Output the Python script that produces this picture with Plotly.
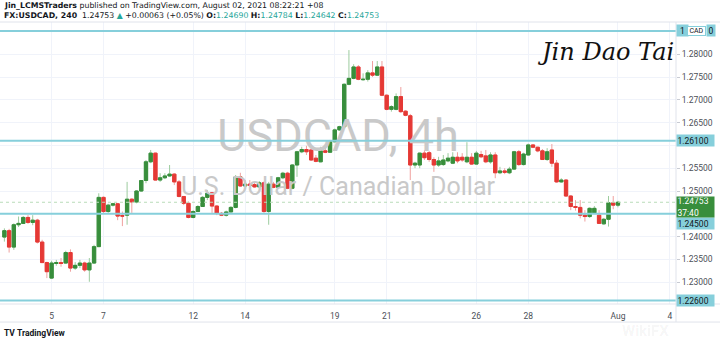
import plotly.graph_objects as go

# ---- data: USDCAD 4h candles (Jul 1 13:00 -> Aug 2 05:00, UTC+8) ----
opens = [1.2399, 1.2413, 1.2377, 1.2426, 1.2429, 1.2442, 1.2431, 1.2436, 1.2388, 1.2343,
         1.2309, 1.2341, 1.2343, 1.2342, 1.2365, 1.2331, 1.2337, 1.2342, 1.2327, 1.2342,
         1.2378, 1.2486, 1.2455, 1.2469, 1.2472, 1.2446, 1.2447, 1.2482, 1.2476, 1.2500,
         1.2523, 1.2564, 1.2583, 1.2524, 1.2529, 1.2533, 1.2537, 1.2520, 1.2488, 1.2473,
         1.2442, 1.2455, 1.2466, 1.2486, 1.2496, 1.2467, 1.2451, 1.2447, 1.2454, 1.2464,
         1.2531, 1.2511, 1.2515, 1.2514, 1.2509, 1.2518, 1.2455, 1.2515, 1.2508, 1.2529,
         1.2539, 1.2506, 1.2557, 1.2586, 1.2591, 1.2590, 1.2572, 1.2564, 1.2588, 1.2585,
         1.2608, 1.2634, 1.2641, 1.2734, 1.2747, 1.2772, 1.2744, 1.2745, 1.2759, 1.2754,
         1.2772, 1.2710, 1.2679, 1.2679, 1.2707, 1.2675, 1.2665, 1.2557, 1.2557, 1.2583,
         1.2584, 1.2569, 1.2557, 1.2558, 1.2566, 1.2561, 1.2574, 1.2574, 1.2564, 1.2574,
         1.2559, 1.2580, 1.2577, 1.2564, 1.2579, 1.2540, 1.2544, 1.2540, 1.2548, 1.2586,
         1.2558, 1.2579, 1.2601, 1.2596, 1.2588, 1.2569, 1.2590, 1.2561, 1.2520, 1.2524,
         1.2489, 1.2466, 1.2464, 1.2447, 1.2444, 1.2452, 1.2447, 1.2428, 1.2438, 1.2474,
         1.24690]
highs = [1.2418, 1.2417, 1.2429, 1.2444, 1.2445, 1.2447, 1.2447, 1.2439, 1.2393, 1.2345,
         1.2347, 1.2349, 1.2353, 1.2369, 1.2372, 1.2344, 1.2349, 1.2345, 1.2353, 1.2382,
         1.2495, 1.2488, 1.2472, 1.2474, 1.2474, 1.2455, 1.2520, 1.2484, 1.2502, 1.2524,
         1.2568, 1.2590, 1.2584, 1.2539, 1.2539, 1.2557, 1.2539, 1.2524, 1.2489, 1.2477,
         1.2458, 1.2469, 1.2489, 1.2502, 1.2498, 1.2469, 1.2454, 1.2457, 1.2467, 1.2535,
         1.2540, 1.2524, 1.2524, 1.2518, 1.2522, 1.2521, 1.2520, 1.2520, 1.2531, 1.2542,
         1.2542, 1.2559, 1.2588, 1.2597, 1.2599, 1.2594, 1.2579, 1.2597, 1.2601, 1.2612,
         1.2637, 1.2643, 1.2736, 1.2809, 1.2778, 1.2776, 1.2758, 1.2765, 1.2785, 1.2785,
         1.2785, 1.2712, 1.2688, 1.2714, 1.2728, 1.2677, 1.2669, 1.2564, 1.2584, 1.2590,
         1.2588, 1.2574, 1.2575, 1.2579, 1.2583, 1.2585, 1.2585, 1.2583, 1.2607, 1.2583,
         1.2588, 1.2588, 1.2590, 1.2585, 1.2585, 1.2553, 1.2550, 1.2553, 1.2588, 1.2590,
         1.2584, 1.2604, 1.2603, 1.2597, 1.2592, 1.2594, 1.2603, 1.2568, 1.2528, 1.2526,
         1.2491, 1.2480, 1.2480, 1.2458, 1.2464, 1.2467, 1.2458, 1.2441, 1.2489, 1.2489,
         1.24784]
lows = [1.2389, 1.2365, 1.2371, 1.2421, 1.2428, 1.2428, 1.2425, 1.2385, 1.2342, 1.2309,
        1.2307, 1.2336, 1.2334, 1.2340, 1.2323, 1.2327, 1.2331, 1.2323, 1.2301, 1.2340,
        1.2377, 1.2451, 1.2452, 1.2466, 1.2436, 1.2423, 1.2426, 1.2452, 1.2473, 1.2498,
        1.2517, 1.2561, 1.2523, 1.2520, 1.2526, 1.2531, 1.2513, 1.2486, 1.2469, 1.2440,
        1.2440, 1.2454, 1.2465, 1.2480, 1.2452, 1.2447, 1.2445, 1.2444, 1.2454, 1.2462,
        1.2509, 1.2509, 1.2507, 1.2507, 1.2509, 1.2452, 1.2426, 1.2506, 1.2507, 1.2526,
        1.2504, 1.2504, 1.2531, 1.2583, 1.2579, 1.2566, 1.2563, 1.2563, 1.2583, 1.2584,
        1.2607, 1.2632, 1.2638, 1.2732, 1.2745, 1.2743, 1.2742, 1.2740, 1.2750, 1.2752,
        1.2708, 1.2677, 1.2674, 1.2677, 1.2671, 1.2664, 1.2524, 1.2550, 1.2550, 1.2568,
        1.2564, 1.2542, 1.2553, 1.2555, 1.2563, 1.2559, 1.2561, 1.2564, 1.2561, 1.2557,
        1.2558, 1.2572, 1.2561, 1.2560, 1.2528, 1.2537, 1.2537, 1.2537, 1.2546, 1.2555,
        1.2556, 1.2577, 1.2594, 1.2585, 1.2568, 1.2566, 1.2553, 1.2518, 1.2518, 1.2487,
        1.2458, 1.2457, 1.2440, 1.2433, 1.2441, 1.2450, 1.2428, 1.2426, 1.2422, 1.2460,
        1.24642]
closes = [1.2413, 1.2377, 1.2426, 1.2429, 1.2442, 1.2431, 1.2436, 1.2388, 1.2343, 1.2323,
          1.2342, 1.2343, 1.2341, 1.2365, 1.2331, 1.2337, 1.2342, 1.2327, 1.2342, 1.2378,
          1.2486, 1.2455, 1.2469, 1.2472, 1.2445, 1.2445, 1.2482, 1.2476, 1.2500, 1.2523,
          1.2564, 1.2583, 1.2524, 1.2529, 1.2533, 1.2537, 1.2520, 1.2488, 1.2473, 1.2442,
          1.2455, 1.2466, 1.2486, 1.2495, 1.2467, 1.2451, 1.2447, 1.2454, 1.2464, 1.2531,
          1.2511, 1.2515, 1.2512, 1.2509, 1.2518, 1.2455, 1.2515, 1.2508, 1.2529, 1.2539,
          1.2506, 1.2557, 1.2586, 1.2591, 1.2586, 1.2568, 1.2565, 1.2588, 1.2585, 1.2608,
          1.2634, 1.2641, 1.2734, 1.2747, 1.2772, 1.2745, 1.2745, 1.2759, 1.2754, 1.2772,
          1.2710, 1.2679, 1.2685, 1.2707, 1.2674, 1.2666, 1.2557, 1.2561, 1.2583, 1.2573,
          1.2569, 1.2557, 1.2566, 1.2568, 1.2572, 1.2574, 1.2566, 1.2568, 1.2574, 1.2559,
          1.2583, 1.2575, 1.2564, 1.2579, 1.2540, 1.2544, 1.2541, 1.2548, 1.2586, 1.2558,
          1.2581, 1.2601, 1.2596, 1.2588, 1.2569, 1.2586, 1.2561, 1.2520, 1.2524, 1.2489,
          1.2466, 1.2464, 1.2447, 1.2444, 1.2462, 1.2462, 1.2429, 1.2438, 1.2474, 1.2469,
          1.24753]

# date labels and the bar index where each day starts
tick_labels = ["5", "7", "12", "14", "19", "21", "26", "28", "Aug", "4"]
tick_bars = [10, 21, 40, 51, 70, 81, 100, 111, 130, 141]

price_ticks = [1.230, 1.235, 1.240, 1.245, 1.250, 1.255, 1.260, 1.265, 1.270, 1.275, 1.280]
hidden_ticks = [1.245, 1.260]   # covered by the line labels on the price scale

hline_levels = [1.2851, 1.2610, 1.2450, 1.2260]
hline_texts = ["1", "1.26100", "1.24500", "1.22600"]

symbol = "USDCAD, 4h"
description = "U.S. Dollar / Canadian Dollar"
countdown = "37:40"

# ---- styling ----
GREEN = "#388e3c"
RED = "#e53935"
GREEN_W = "#9ccc9e"
RED_W = "#f0a09e"
CYAN = "#86cfdb"
GRID = "#f0f3fa"
TXT = "#4c4f57"

x = list(range(len(opens)))
body_hi = [max(o, c) for o, c in zip(opens, closes)]
body_lo = [min(o, c) for o, c in zip(opens, closes)]

xr = [-0.93, 142.3]
yr = [1.22522, 1.28706]

fig = go.Figure()

# watermark (behind candles)
fig.add_trace(go.Scatter(x=[(xr[0] + xr[1]) / 2], y=[1.2612], mode="text", text=[symbol],
                         textfont=dict(family="Roboto", size=45, color="#c9c9c9"),
                         hoverinfo="skip"))
fig.add_trace(go.Scatter(x=[(xr[0] + xr[1]) / 2], y=[1.2505], mode="text", text=[description],
                         textfont=dict(family="Roboto", size=25, color="#c9c9c9"),
                         hoverinfo="skip"))

# wicks (light)
fig.add_trace(go.Candlestick(x=x, open=opens, high=highs, low=lows, close=closes,
                             increasing=dict(line=dict(color=GREEN_W, width=1), fillcolor=GREEN_W),
                             decreasing=dict(line=dict(color=RED_W, width=1), fillcolor=RED_W),
                             hoverinfo="skip"))
# bodies (solid)
fig.add_trace(go.Candlestick(x=x, open=opens, high=body_hi, low=body_lo, close=closes,
                             increasing=dict(line=dict(color=GREEN, width=1), fillcolor=GREEN),
                             decreasing=dict(line=dict(color=RED, width=1), fillcolor=RED),
                             hoverinfo="skip"))

shapes = []
# current price line
shapes.append(dict(type="line", xref="paper", x0=0, x1=1, yref="y", y0=closes[-1], y1=closes[-1],
                   line=dict(color="#b9dcb9", width=1, dash="dot")))
# horizontal drawn lines
for lv in hline_levels:
    shapes.append(dict(type="line", xref="paper", x0=0, x1=1, yref="y", y0=lv, y1=lv,
                       line=dict(color=CYAN, width=2)))
# frame lines
BORDER = "#e0e3eb"
shapes.append(dict(type="line", xref="paper", yref="paper", x0=0, x1=1.066, y0=1.0, y1=1.0,
                   line=dict(color=BORDER, width=1)))
shapes.append(dict(type="line", xref="paper", yref="paper", x0=0, x1=1.066, y0=0, y1=0,
                   line=dict(color=BORDER, width=1)))
shapes.append(dict(type="line", xref="paper", yref="paper", x0=0, x1=1.066, y0=-0.064, y1=-0.064,
                   line=dict(color=BORDER, width=1)))
shapes.append(dict(type="line", xref="paper", yref="paper", x0=1, x1=1, y0=-0.064, y1=1.0,
                   line=dict(color=BORDER, width=1)))

ann = []
# header
HDR = dict(family="DejaVu Sans", size=7.8, color="#131722")
ann.append(dict(xref="paper", yref="paper", x=0.003, y=1.059, xanchor="left", yanchor="middle",
                showarrow=False, font=HDR,
                text="<b>Jin_LCMSTraders</b> published on TradingView.com, August 02, 2021 08:22:21 +08"))
VC = "#26a69a"
ann.append(dict(xref="paper", yref="paper", x=0.003, y=1.024, xanchor="left", yanchor="middle",
                showarrow=False, font=HDR,
                text=("<b>FX:USDCAD, 240</b>  1.24753 <span style='color:%s'>▲</span> +0.00063 (+0.05%%) "
                      "<b>O:</b><span style='color:%s'>1.24690</span> <b>H:</b><span style='color:%s'>1.24784</span> "
                      "<b>L:</b><span style='color:%s'>1.24642</span> <b>C:</b><span style='color:%s'>1.24753</span>")
                % (VC, VC, VC, VC, VC)))

LBL = dict(family="Roboto", size=8.5, color="#131722")
# price scale labels for the drawn lines
shifts = [0, 0, -9.5, 0]
widths = [10, 36, 36, 36]
for lv, tx, sh, w in zip(hline_levels, hline_texts, shifts, widths):
    ann.append(dict(xref="paper", yref="y", x=1.0, y=lv, xanchor="left", yanchor="middle",
                    yshift=sh, showarrow=False, text=tx, bgcolor=CYAN, width=w, height=10,
                    borderpad=0.5, align="left" if w > 10 else "center", font=LBL))
# currency badge and the tail of the top label
ann.append(dict(xref="paper", yref="y", x=1.0, y=hline_levels[0], xanchor="left", yanchor="middle",
                xshift=11, showarrow=False, text="CAD", bgcolor="white", bordercolor=CYAN,
                borderwidth=1, borderpad=0, width=17, height=8,
                font=dict(family="Roboto", size=7, color="#131722")))
ann.append(dict(xref="paper", yref="y", x=1.0, y=hline_levels[0], xanchor="left", yanchor="middle",
                xshift=30, showarrow=False, text="0", bgcolor=CYAN, width=7, height=10,
                borderpad=0.5, font=LBL))
# last price label
ann.append(dict(xref="paper", yref="y", x=1.0, y=closes[-1], xanchor="left", yanchor="top",
                yshift=6.5, showarrow=False, text="%.5f<br>%s" % (closes[-1], countdown),
                bgcolor=GREEN, width=36, height=19, borderpad=0.5, align="left",
                font=dict(family="Roboto", size=8.5, color="white")))

# signature
ann.append(dict(xref="paper", yref="paper", x=0.895, y=0.895, xanchor="center", yanchor="middle",
                showarrow=False, text="<i>Jin Dao Tai</i>",
                font=dict(family="DejaVu Serif", size=24, color="#111111")))
# faint WikiFX mark
ann.append(dict(xref="paper", yref="paper", x=0.955, y=-0.095, xanchor="center", yanchor="middle",
                showarrow=False, text="<b>WikiFX</b>",
                font=dict(family="Roboto", size=15, color="rgba(0,0,0,0.05)")))
# TradingView logo
ann.append(dict(xref="paper", yref="paper", x=0.003, y=-0.103, xanchor="left", yanchor="middle",
                showarrow=False, text="<b>TV</b> <b>TradingView</b>",
                font=dict(family="Roboto", size=8.5, color="#131722")))

fig.update_layout(
    width=720, height=342,
    margin=dict(l=0, r=44, t=22, b=38),
    paper_bgcolor="white", plot_bgcolor="white",
    showlegend=False,
    boxgap=0.3, boxgroupgap=0,
    shapes=shapes, annotations=ann,
    xaxis=dict(range=xr, tickvals=tick_bars, ticktext=tick_labels, showgrid=True, gridcolor=GRID,
               zeroline=False, showline=False, ticks="outside", ticklen=4,
               tickcolor="rgba(0,0,0,0)", rangeslider=dict(visible=False),
               tickfont=dict(family="Roboto", size=8.5, color=TXT), fixedrange=True),
    yaxis=dict(range=yr, side="right", tickvals=price_ticks,
               ticktext=["" if t in hidden_ticks else "%.5f" % t for t in price_ticks],
               showgrid=True, gridcolor=GRID, zeroline=False, showline=False,
               ticks="outside", ticklen=3, tickcolor="#c8cbd3",
               tickfont=dict(family="Roboto", size=8.5, color=TXT), fixedrange=True),
)

fig.write_html("out.html")
